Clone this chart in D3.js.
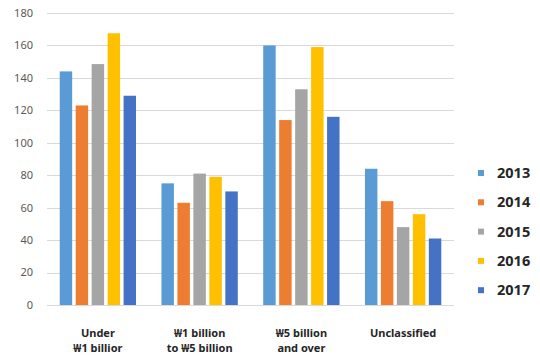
<!DOCTYPE html>
<html>
<head>
<meta charset="utf-8">
<script src="https://cdn.jsdelivr.net/npm/d3@7"></script>
<style>
  body { margin: 0; background: #fff; }
  svg { display: block; }
</style>
</head>
<body>
<div id="chart"></div>
<script>
const categories = [["Under", "₩1 billior"], ["₩1 billion", "to ₩5 billion"], ["₩5 billion", "and over"], ["Unclassified"]];
const years = ["2013", "2014", "2015", "2016", "2017"];
const colors = ["#5b9bd5", "#ed7d31", "#a5a5a5", "#ffc000", "#4472c4"];
const values2013 = [144, 75, 160, 84];
const values2014 = [123, 63, 114, 64];
const values2015 = [148.5, 81, 133, 48];
const values2016 = [167.5, 79, 159, 56];
const values2017 = [129, 70, 116, 41];
const yTicks = [0, 20, 40, 60, 80, 100, 120, 140, 160, 180];

const series = [values2013, values2014, values2015, values2016, values2017];

const width = 540, height = 357;
const margin = {top: 13, right: 86, bottom: 52, left: 47};

const svg = d3.select("#chart").append("svg")
    .attr("width", width)
    .attr("height", height);

const x0 = d3.scaleBand()
    .domain(d3.range(categories.length))
    .range([margin.left, width - margin.right])
    .paddingInner(0.25)
    .paddingOuter(0.125);

const x1 = d3.scaleBand()
    .domain(years)
    .range([0, x0.bandwidth()])
    .paddingInner(0.22)
    .paddingOuter(0);

const y = d3.scaleLinear()
    .domain([0, 180])
    .range([height - margin.bottom, margin.top]);

// gridlines
svg.append("g")
    .selectAll("line")
    .data(yTicks)
    .join("line")
    .attr("x1", margin.left)
    .attr("x2", width - margin.right)
    .attr("y1", d => Math.round(y(d)) + 0.5)
    .attr("y2", d => Math.round(y(d)) + 0.5)
    .attr("stroke", "#d9d9d9")
    .attr("stroke-width", 1);

// y tick labels
svg.append("g")
    .selectAll("text")
    .data(yTicks)
    .join("text")
    .attr("x", 33)
    .attr("y", d => y(d))
    .attr("dy", "0.35em")
    .attr("text-anchor", "end")
    .attr("fill", "#595959")
    .style("font-family", "'Noto Sans', sans-serif")
    .style("font-size", "11px")
    .text(d => d);

// bars
const groups = svg.append("g")
    .selectAll("g")
    .data(categories)
    .join("g")
    .attr("transform", (d, i) => `translate(${x0(i)},0)`);

groups.selectAll("rect")
    .data((d, i) => years.map((yr, j) => ({year: yr, value: series[j][i], color: colors[j]})))
    .join("rect")
    .attr("x", d => x1(d.year))
    .attr("width", x1.bandwidth())
    .attr("y", d => y(d.value))
    .attr("height", d => y(0) - y(d.value))
    .attr("fill", d => d.color);

// category labels
const labels = svg.append("g")
    .selectAll("text")
    .data(categories)
    .join("text")
    .attr("x", (d, i) => x0(i) + x0.bandwidth() / 2)
    .attr("y", 337)
    .attr("text-anchor", "middle")
    .attr("fill", "#262626")
    .style("font-family", "'Noto Sans', sans-serif")
    .style("font-size", "11px")
    .style("font-weight", "bold");

labels.selectAll("tspan")
    .data(d => d)
    .join("tspan")
    .attr("x", function() { return this.parentNode.getAttribute("x"); })
    .attr("dy", (d, i) => i === 0 ? 0 : 15)
    .text(d => d);

// legend
const legend = svg.append("g")
    .selectAll("g")
    .data(years)
    .join("g")
    .attr("transform", (d, i) => `translate(478,${173 + i * 29.3})`);

legend.append("rect")
    .attr("x", 0)
    .attr("y", -3)
    .attr("width", 6)
    .attr("height", 6)
    .attr("fill", (d, i) => colors[i]);

legend.append("text")
    .attr("x", 19)
    .attr("y", 0)
    .attr("dy", "0.35em")
    .attr("fill", "#262626")
    .style("font-family", "'Noto Sans', sans-serif")
    .style("font-size", "14.5px")
    .style("font-weight", "bold")
    .text(d => d);
</script>
</body>
</html>
